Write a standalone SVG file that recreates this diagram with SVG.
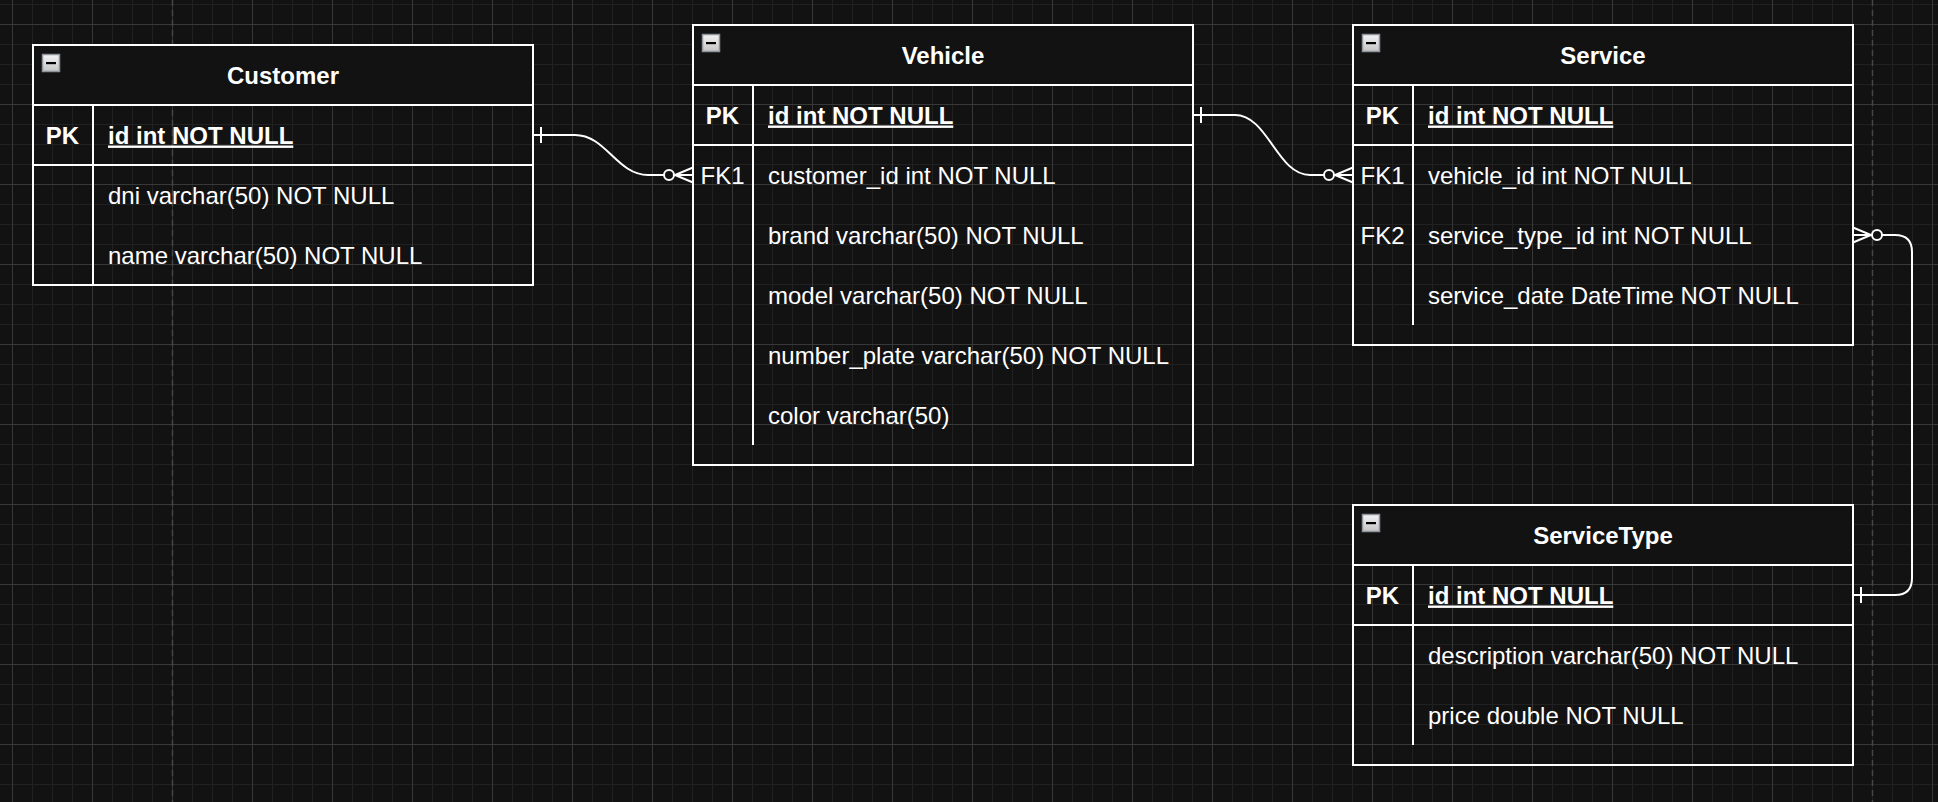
<svg xmlns="http://www.w3.org/2000/svg" width="1938" height="802" viewBox="0 0 1938 802">
  <defs>
    <pattern id="grid" width="80" height="80" patternUnits="userSpaceOnUse" x="12" y="24">
      <path d="M20.5,0V80M40.5,0V80M60.5,0V80M0,20.5H80M0,40.5H80M0,60.5H80" stroke="#212121" stroke-width="1" fill="none"/>
      <path d="M0.5,0V80M0,0.5H80" stroke="#383838" stroke-width="1" fill="none"/>
    </pattern>
    <linearGradient id="iconGrad" x1="0" y1="0" x2="0" y2="1">
      <stop offset="0" stop-color="#f4f4f4"/>
      <stop offset="1" stop-color="#c4c4c4"/>
    </linearGradient>
    <g id="minus">
      <rect x="0" y="0" width="17" height="17" fill="url(#iconGrad)" stroke="#8e939c" stroke-width="1.5"/>
      <rect x="3.5" y="7.5" width="10" height="2.2" fill="#000"/>
    </g>
  </defs>
  <style>
    .bg { fill: #121212; }
    .tbl { fill: none; stroke: #ffffff; stroke-width: 2; }
    .hdr { fill: #121212; stroke: none; }
    .ln { stroke: #ffffff; stroke-width: 2; fill: none; }
    .t { font-family: "Liberation Sans", Arial, Helvetica, sans-serif; font-size: 24px; fill: #ffffff; }
    .title { font-weight: bold; text-anchor: middle; }
    .key { text-anchor: middle; }
    .b { font-weight: bold; }
    .u { font-weight: bold; text-decoration: underline; }
    .page { stroke: #454545; stroke-width: 1.5; stroke-dasharray: 6 4; fill: none; }
    .edge { stroke: #ffffff; stroke-width: 2; fill: none; }
    .dot { stroke: #ffffff; stroke-width: 2; fill: #121212; }
  </style>

  <rect class="bg" x="0" y="0" width="1938" height="802"/>
  <rect x="0" y="0" width="1938" height="802" fill="url(#grid)"/>
  <path class="page" d="M172.5,0V802M1872.5,0V802"/>

  <g id="customer">
    <rect class="hdr" x="33" y="45" width="500" height="60"/>
    <rect class="tbl" x="33" y="45" width="500" height="240"/>
    <path class="ln" d="M33,105H533M33,165H533M93,105V285"/>
    <use href="#minus" x="42.5" y="54.5"/>
    <text class="t title" x="283" y="83.5">Customer</text>
    <text class="t key b" x="62.5" y="143.5">PK</text>
    <text class="t u" x="108" y="143.5">id int NOT NULL</text>
    <text class="t" x="108" y="203.5">dni varchar(50) NOT NULL</text>
    <text class="t" x="108" y="263.5">name varchar(50) NOT NULL</text>
  </g>

  <g id="vehicle">
    <rect class="hdr" x="693" y="25" width="500" height="60"/>
    <rect class="tbl" x="693" y="25" width="500" height="440"/>
    <path class="ln" d="M693,85H1193M693,145H1193M753,85V445"/>
    <use href="#minus" x="702.5" y="34.5"/>
    <text class="t title" x="943" y="63.5">Vehicle</text>
    <text class="t key b" x="722.5" y="123.5">PK</text>
    <text class="t u" x="768" y="123.5">id int NOT NULL</text>
    <text class="t key" x="722.5" y="183.5">FK1</text>
    <text class="t" x="768" y="183.5">customer_id int NOT NULL</text>
    <text class="t" x="768" y="243.5">brand varchar(50) NOT NULL</text>
    <text class="t" x="768" y="303.5">model varchar(50) NOT NULL</text>
    <text class="t" x="768" y="363.5">number_plate varchar(50) NOT NULL</text>
    <text class="t" x="768" y="423.5">color varchar(50)</text>
  </g>

  <g id="service">
    <rect class="hdr" x="1353" y="25" width="500" height="60"/>
    <rect class="tbl" x="1353" y="25" width="500" height="320"/>
    <path class="ln" d="M1353,85H1853M1353,145H1853M1413,85V325"/>
    <use href="#minus" x="1362.5" y="34.5"/>
    <text class="t title" x="1603" y="63.5">Service</text>
    <text class="t key b" x="1382.5" y="123.5">PK</text>
    <text class="t u" x="1428" y="123.5">id int NOT NULL</text>
    <text class="t key" x="1382.5" y="183.5">FK1</text>
    <text class="t" x="1428" y="183.5">vehicle_id int NOT NULL</text>
    <text class="t key" x="1382.5" y="243.5">FK2</text>
    <text class="t" x="1428" y="243.5">service_type_id int NOT NULL</text>
    <text class="t" x="1428" y="303.5">service_date DateTime NOT NULL</text>
  </g>

  <g id="servicetype">
    <rect class="hdr" x="1353" y="505" width="500" height="60"/>
    <rect class="tbl" x="1353" y="505" width="500" height="260"/>
    <path class="ln" d="M1353,565H1853M1353,625H1853M1413,565V745"/>
    <use href="#minus" x="1362.5" y="514.5"/>
    <text class="t title" x="1603" y="543.5">ServiceType</text>
    <text class="t key b" x="1382.5" y="603.5">PK</text>
    <text class="t u" x="1428" y="603.5">id int NOT NULL</text>
    <text class="t" x="1428" y="663.5">description varchar(50) NOT NULL</text>
    <text class="t" x="1428" y="723.5">price double NOT NULL</text>
  </g>

  <g id="connectors">
    <g id="customer-vehicle">
      <path class="edge" d="M533,135H575C606,135 617,175 648,175H664"/>
      <path class="edge" d="M541,127V143"/>
      <circle class="dot" cx="669" cy="175" r="5"/>
      <path class="edge" d="M693,167.5L675,175L693,182.5M675,175H693"/>
    </g>
    <g id="vehicle-service">
      <path class="edge" d="M1193,115H1235C1268,115 1277,175 1310,175H1324"/>
      <path class="edge" d="M1201,107V123"/>
      <circle class="dot" cx="1329" cy="175" r="5"/>
      <path class="edge" d="M1353,167.5L1335,175L1353,182.5M1335,175H1353"/>
    </g>
    <g id="service-servicetype">
      <path class="edge" d="M1853,227.5L1871,235L1853,242.5M1853,235H1871"/>
      <circle class="dot" cx="1877" cy="235" r="5"/>
      <path class="edge" d="M1882,235H1895Q1912,235 1912,252V578Q1912,595 1895,595H1853"/>
      <path class="edge" d="M1861,587V603"/>
    </g>
  </g>
</svg>
